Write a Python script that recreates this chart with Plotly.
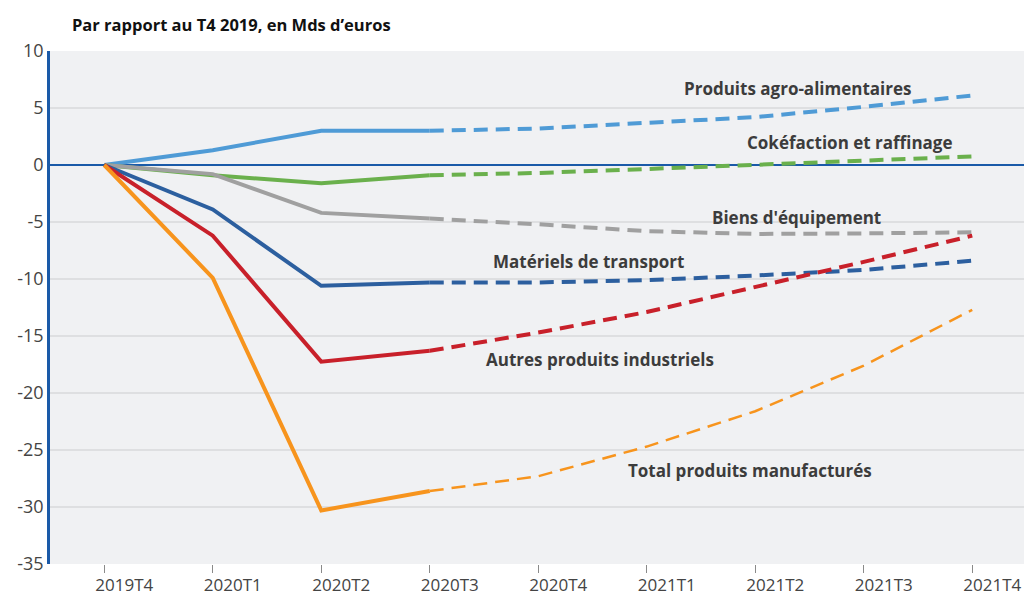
import plotly.graph_objects as go

quarters = ["2019T4", "2020T1", "2020T2", "2020T3", "2020T4", "2021T1", "2021T2", "2021T3", "2021T4"]
last_observed = 3  # index of 2020T3: solid up to here, dashed projection after

agro = [0, 1.3, 3.0, 3.0, 3.2, 3.7, 4.2, 5.1, 6.1]
coke = [0, -0.9, -1.6, -0.9, -0.7, -0.35, 0.0, 0.4, 0.75]
equip = [0, -0.8, -4.2, -4.7, -5.2, -5.8, -6.05, -6.0, -5.9]
transport = [0, -3.9, -10.6, -10.3, -10.3, -10.1, -9.7, -9.2, -8.4]
autres = [0, -6.2, -17.25, -16.3, -14.7, -12.9, -10.7, -8.5, -6.2]
total = [0, -9.9, -30.3, -28.6, -27.3, -24.7, -21.6, -17.6, -12.7]

series = [
    ("Produits agro-alimentaires", agro, "#4f9bd6", 4, 797, 88),
    ("Cokéfaction et raffinage", coke, "#6ab04c", 4, 849, 142),
    ("Biens d'équipement", equip, "#a0a0a0", 4, 796, 217),
    ("Matériels de transport", transport, "#2c5f9f", 4, 588, 261),
    ("Autres produits industriels", autres, "#c8202a", 4, 600, 359),
    ("Total produits manufacturés", total, "#f7941d", 4, 750, 470),
]

y_ticks = [10, 5, 0, -5, -10, -15, -20, -25, -30, -35]

FONT = "Open Sans"

fig = go.Figure()
for name, vals, color, w, _, _ in series:
    fig.add_trace(go.Scatter(
        x=quarters[:last_observed + 1], y=vals[:last_observed + 1], mode="lines",
        line=dict(color=color, width=w), showlegend=False, hoverinfo="skip"))
    dash_w = 2.5 if name.startswith("Total") else w
    fig.add_trace(go.Scatter(
        x=quarters[last_observed:], y=vals[last_observed:], mode="lines",
        line=dict(color=color, width=dash_w, dash="14px,8px"), showlegend=False, hoverinfo="skip"))

annotations = []
for name, vals, color, w, ax, ay in series:
    annotations.append(dict(
        text="<b>" + name + "</b>", x=ax, y=596 - ay, xref="paper", yref="paper",
        showarrow=False, font=dict(family=FONT, size=17, color="#3c3c3c"),
        xanchor="center", yanchor="middle"))
annotations.append(dict(
    text="<b>Par rapport au T4 2019, en Mds d\u2019euros</b>", x=70, y=596 - 25,
    xref="paper", yref="paper", showarrow=False, xanchor="left", yanchor="middle",
    font=dict(family=FONT, size=16.5, color="#111111")))

# convert pixel positions of annotations into paper coordinates
L, R, T, B = 50, 0, 51, 32
pw, ph = 1024 - L - R, 596 - T - B
for a in annotations:
    a["x"] = (a["x"] - L) / pw
    a["y"] = (a["y"] - B) / ph

fig.update_layout(
    width=1024, height=596,
    margin=dict(l=L, r=R, t=T, b=B, autoexpand=False),
    paper_bgcolor="white", plot_bgcolor="#f0f1f3",
    font=dict(family=FONT, size=18, color="#444444"),
    annotations=annotations,
    xaxis=dict(
        type="category", categoryorder="array", categoryarray=quarters,
        range=[-0.5, 8.477], showgrid=False, zeroline=False, showline=False,
        ticks="outside", ticklen=8, tickwidth=1, tickcolor="#8a8a8a",
        ticklabelshift=20, ticklabelstandoff=-2,
        tickfont=dict(family=FONT, size=17, color="#444444"),
        automargin=False,
    ),
    yaxis=dict(
        range=[-35, 10], tickvals=y_ticks, ticktext=[str(v) for v in y_ticks],
        showgrid=True, gridcolor="#dedfe1", gridwidth=1.5,
        zeroline=True, zerolinecolor="#1a5aa8", zerolinewidth=1.5,
        showline=True, linecolor="#1a5aa8", linewidth=2.5,
        ticks="", tickfont=dict(family=FONT, size=18, color="#444444"),
        automargin=False,
    ),
)

fig.write_html("out.html", config={"displayModeBar": False},
               post_script="document.body.style.margin='0';document.body.style.overflow='hidden';")
